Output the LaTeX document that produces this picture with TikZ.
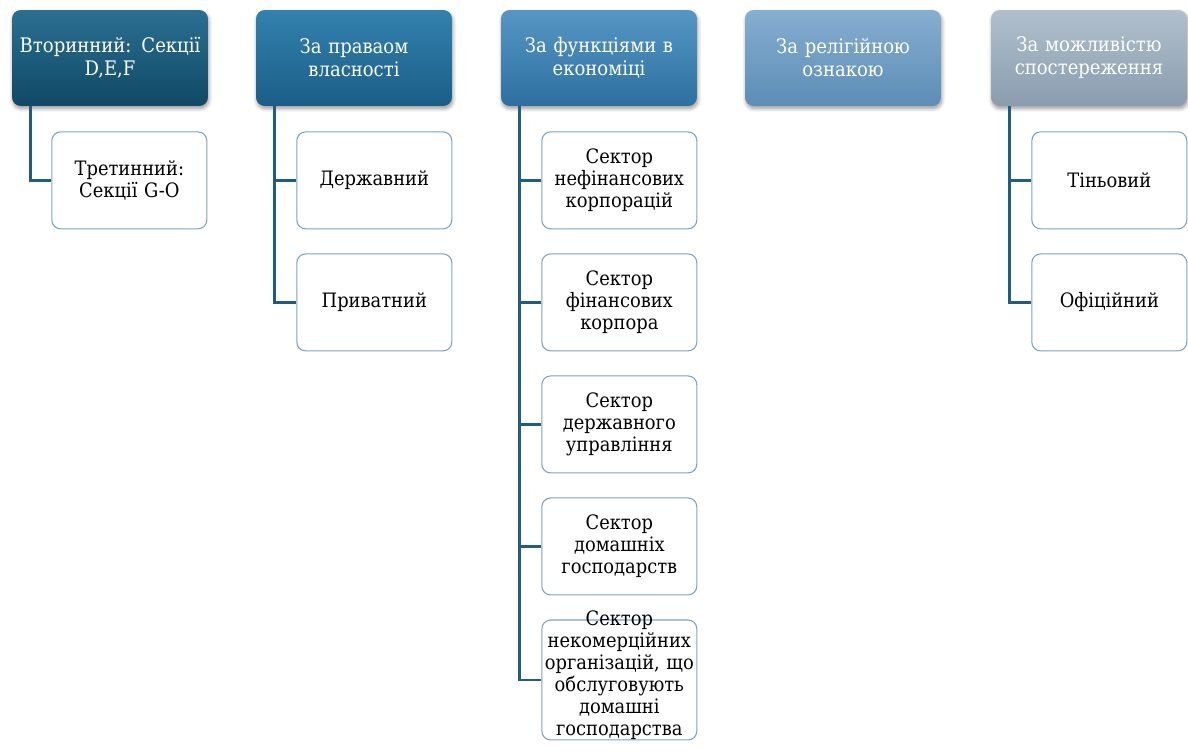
\documentclass[tikz,border=0pt]{standalone}
\usepackage{fontspec}
\setmainfont{DejaVu Serif Condensed}
\usepackage{tikz}
\usetikzlibrary{positioning,shadows.blur}

\definecolor{linkblue}{HTML}{1F5E80}
\definecolor{boxline}{HTML}{7FA2BE}
\definecolor{hdAtop}{HTML}{2B6F90}\definecolor{hdAbot}{HTML}{0F4966}
\definecolor{hdBtop}{HTML}{3381AE}\definecolor{hdBbot}{HTML}{1A5E88}
\definecolor{hdCtop}{HTML}{5596C4}\definecolor{hdCbot}{HTML}{2D70A0}
\definecolor{hdDtop}{HTML}{86AED0}\definecolor{hdDbot}{HTML}{5C8DB6}
\definecolor{hdEtop}{HTML}{B0BFCC}\definecolor{hdEbot}{HTML}{8A9DAF}

\tikzset{
  header/.style={rounded corners=5pt, minimum width=3.92cm, minimum height=1.92cm,
    inner xsep=0pt, text width=3.9cm, align=center, text=white, font=\fontsize{11.4}{13}\selectfont,
    blur shadow={shadow xshift=0.5pt, shadow yshift=-1.5pt, shadow blur steps=6}},
  leaf/.style={draw=boxline, line width=0.6pt, rounded corners=5pt, fill=white,
    minimum width=3.1cm, minimum height=1.94cm, inner xsep=0pt, text width=3.0cm, align=center,
    font=\fontsize{11.3}{12.5}\selectfont},
  link/.style={draw=linkblue, line width=1.6pt}
}

\begin{document}
\begin{tikzpicture}[x=0.02cm,y=-0.02cm]
  \useasboundingbox (0,0) rectangle (1188,751);

  % top row
  \node[header, top color=hdAtop, bottom color=hdAbot] (h1) at (110,58) {Вторинний: Секції\\ D,E,F};
  \node[header, top color=hdBtop, bottom color=hdBbot] (h2) at (354,58) {За праваом\\ власності};
  \node[header, top color=hdCtop, bottom color=hdCbot] (h3) at (599,58) {За функціями в\\ економіці};
  \node[header, top color=hdDtop, bottom color=hdDbot] (h4) at (843,58) {За релігійною\\ ознакою};
  \node[header, top color=hdEtop, bottom color=hdEbot] (h5) at (1089,58) {За можливістю\\ спостереження};

  % leaves
  \node[leaf, below left=0.5cm and 0.02cm of h1.south east] (c1a) {Третинний:\\ Секції G-O};

  \node[leaf, below left=0.5cm and 0cm of h2.south east] (c2a) {Державний};
  \node[leaf, below=0.48cm of c2a] (c2b) {Приватний};

  \node[leaf, below left=0.5cm and 0cm of h3.south east] (c3a) {Сектор\\ нефінансових\\ корпорацій};
  \node[leaf, below=0.48cm of c3a] (c3b) {Сектор\\ фінансових\\ корпора};
  \node[leaf, below=0.48cm of c3b] (c3c) {Сектор\\ державного\\ управління};
  \node[leaf, below=0.48cm of c3c] (c3d) {Сектор\\ домашніх\\ господарств};
  \node[leaf, below=0.48cm of c3d, minimum height=2.4cm, text height=0pt, text depth=0pt] (c3e) {\parbox{3.0cm}{\centering Сектор\\ некомерційних\\ організацій, що\\ обслуговують\\ домашні\\ господарства}};

  \node[leaf, below left=0.5cm and 0cm of h5.south east] (c5a) {Тіньовий};
  \node[leaf, below=0.48cm of c5a] (c5b) {Офіційний};

  % connectors
  \foreach \h/\c in {h1/c1a, h2/c2a, h2/c2b, h3/c3a, h3/c3b, h3/c3c, h3/c3d, h3/c3e, h5/c5a, h5/c5b}
    \draw[link] ([xshift=0.38cm]\h.south west) |- (\c.west);
\end{tikzpicture}
\end{document}
